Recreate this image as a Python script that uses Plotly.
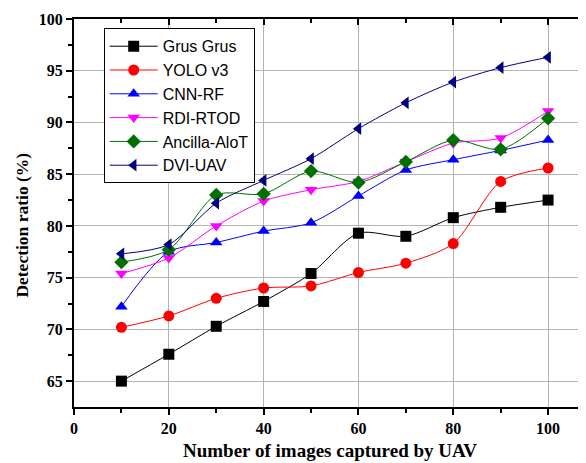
import plotly.graph_objects as go

x_vals = [10, 20, 30, 40, 50, 60, 70, 80, 90, 100]
grus_grus = [65.0, 67.6, 70.3, 72.7, 75.4, 79.3, 79.0, 80.8, 81.8, 82.5]
yolo_v3 = [70.2, 71.3, 73.0, 74.0, 74.2, 75.5, 76.4, 78.3, 84.3, 85.6]
cnn_rf = [72.2, 77.5, 78.4, 79.5, 80.3, 82.9, 85.4, 86.4, 87.3, 88.3]
rdi_rtod = [75.4, 76.9, 80.0, 82.4, 83.5, 84.3, 86.2, 88.0, 88.5, 91.1]
ancilla_aiot = [76.5, 77.7, 83.0, 83.1, 85.3, 84.2, 86.2, 88.3, 87.4, 90.4]
dvi_uav = [77.3, 78.2, 82.2, 84.4, 86.5, 89.4, 91.9, 93.9, 95.3, 96.3]

series = [
    ("Grus Grus", grus_grus, "#000000", "square"),
    ("YOLO v3", yolo_v3, "#FF0000", "circle"),
    ("CNN-RF", cnn_rf, "#0000FF", "triangle-up"),
    ("RDI-RTOD", rdi_rtod, "#FF00FF", "triangle-down"),
    ("Ancilla-AloT", ancilla_aiot, "#007000", "diamond"),
    ("DVI-UAV", dvi_uav, "#000080", "triangle-left"),
]

fig = go.Figure()
for name, ys, color, sym in series:
    fig.add_trace(go.Scatter(
        x=x_vals, y=ys, name=name, mode="lines+markers",
        line=dict(color=color, width=1, shape="spline", smoothing=0.8),
        marker=dict(symbol=sym, size=11, color=color),
    ))

serif = "Liberation Serif, Times New Roman, serif"
fig.update_layout(
    width=578, height=455,
    margin=dict(l=66, r=0, t=11, b=56),
    plot_bgcolor="white", paper_bgcolor="white",
    showlegend=True,
    legend=dict(
        x=0.058, y=0.976, xanchor="left", yanchor="top",
        bordercolor="black", borderwidth=1, bgcolor="white",
        font=dict(family="Liberation Sans, Arial, sans-serif", size=16, color="black"),
        itemwidth=48, tracegroupgap=0,
    ),
    xaxis=dict(
        range=[0, 108], tickvals=[0, 20, 40, 60, 80, 100], automargin=False,
        showgrid=True, gridcolor="#b4b4b4", gridwidth=1,
        showline=True, linecolor="black", linewidth=2,
        ticks="outside", ticklen=6, tickwidth=1.5, tickcolor="black",
        minor=dict(tickvals=[10, 30, 50, 70, 90], ticks="outside", ticklen=4, tickcolor="black", showgrid=False),
        tickfont=dict(family=serif, size=16, color="black", weight="bold"),
        zeroline=False,
    ),
    xaxis2=dict(
        overlaying="x", side="top", range=[0, 108], matches="x", automargin=False,
        tickvals=[0, 20, 40, 60, 80, 100], showticklabels=False,
        showline=True, linecolor="black", linewidth=2,
        ticks="inside", ticklen=6, tickwidth=1.5, tickcolor="black",
        minor=dict(tickvals=[10, 30, 50, 70, 90], ticks="inside", ticklen=4, tickcolor="black", showgrid=False),
        showgrid=False, zeroline=False,
    ),
    yaxis=dict(
        range=[62.5, 100], tickvals=[65, 70, 75, 80, 85, 90, 95, 100], automargin=False,
        showgrid=True, gridcolor="#b4b4b4", gridwidth=1,
        showline=True, linecolor="black", linewidth=2,
        ticks="outside", ticklen=6, tickwidth=1.5, tickcolor="black",
        minor=dict(tickvals=[67.5, 72.5, 77.5, 82.5, 87.5, 92.5, 97.5], ticks="outside", ticklen=4, tickcolor="black", showgrid=False),
        tickfont=dict(family=serif, size=16, color="black", weight="bold"),
        zeroline=False,
    ),
    annotations=[
        dict(text="Number of images captured by UAV", xref="paper", yref="paper",
             x=0.5, y=-0.112, xanchor="center", yanchor="middle", showarrow=False,
             font=dict(family=serif, size=19, color="black", weight="bold")),
        dict(text="Detection ratio (%)", xref="paper", yref="paper",
             x=-0.1016, y=0.47, xanchor="center", yanchor="middle", showarrow=False, textangle=-90,
             font=dict(family=serif, size=17.5, color="black", weight="bold")),
    ],
)
# dummy trace to activate the top axis
fig.add_trace(go.Scatter(x=[None], y=[None], xaxis="x2", showlegend=False, hoverinfo="skip"))

fig.write_html("out.html")
